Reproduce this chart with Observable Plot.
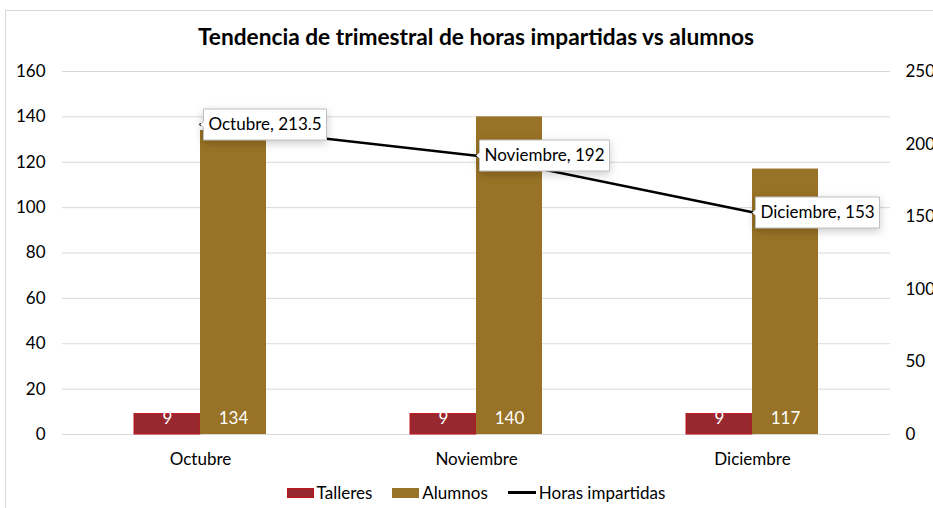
<!DOCTYPE html>
<html>
<head>
<meta charset="utf-8">
<script src="https://cdn.jsdelivr.net/npm/d3@7"></script>
<script src="https://cdn.jsdelivr.net/npm/@observablehq/plot@0.6"></script>
<style>
  body { margin: 0; background: #fff; font-family: Lato, "Open Sans", sans-serif; }
  #wrap { position: relative; width: 933px; height: 508px; overflow: hidden; }
  #frame { position: absolute; left: 5px; top: 10px; width: 960px; height: 520px; border: 1px solid #d9d9d9; box-sizing: border-box; }
  #title { position: absolute; top: 23px; left: 0; width: 952px; text-align: center; font: bold 22.7px Lato, sans-serif; color: #000; }
  #chart { position: absolute; left: 0; top: 0; }
  #legend { position: absolute; top: 482px; left: 0; width: 952px; display: flex; justify-content: center; align-items: center; font: 17px Lato, sans-serif; color: #000; }
  .item { display: flex; align-items: center; margin: 0 10px; }
  .sw { width: 27px; height: 10px; margin-right: 3px; box-sizing: border-box; }
  .ln { width: 28px; height: 3px; background: #000; margin-right: 3px; }
</style>
</head>
<body>
<div id="wrap">
  <div id="frame"></div>
  <div id="title">Tendencia de trimestral de horas impartidas vs alumnos</div>
  <div id="chart"></div>
  <div id="legend"></div>
</div>
<script>
const meses = ["Octubre", "Noviembre", "Diciembre"];
const talleres = [9, 9, 9];
const alumnos = [134, 140, 117];
const horas = [213.5, 192, 153];
const leftTicks = [0, 20, 40, 60, 80, 100, 120, 140, 160];
const rightTicks = [0, 50, 100, 150, 200, 250];
const leftMax = 160, rightMax = 250;

const colTalleres = "#982830", strokeTalleres = "#c0161e";
const colAlumnos = "#987226";

const data = meses.map((m, i) => ({mes: m, talleres: talleres[i], alumnos: alumnos[i], horas: horas[i]}));
const toLeft = v => v * leftMax / rightMax;

const W = 933, H = 508;
const mL = 62, mR = 43, mT = 71, mB = 74;
const band = (W - mL - mR) / meses.length;
const barW = 66;

const plot = Plot.plot({
  width: W, height: H,
  marginLeft: mL, marginRight: mR, marginTop: mT, marginBottom: mB,
  style: {fontFamily: "Lato, sans-serif", fontSize: "17px", color: "#000", overflow: "visible"},
  x: {type: "band", domain: meses, padding: 0, label: null},
  y: {domain: [0, leftMax], label: null},
  marks: [
    Plot.gridY(leftTicks, {stroke: "#d9d9d9", strokeOpacity: 1, strokeWidth: 1}),
    Plot.axisY(leftTicks, {anchor: "left", tickSize: 0, tickPadding: 17, label: null, fontSize: 17}),
    Plot.axisY(rightTicks.map(toLeft), {anchor: "right", tickSize: 0, tickPadding: 15, label: null, fontSize: 17, tickFormat: d => d3.format("d")(Math.round(d * rightMax / leftMax))}),
    Plot.axisX({tickSize: 0, tickPadding: 18, label: null, fontSize: 17}),
    Plot.barY(data, {x: "mes", y: "talleres", fill: colTalleres, stroke: strokeTalleres, strokeWidth: 1, insetLeft: band/2 - barW, insetRight: band/2}),
    Plot.barY(data, {x: "mes", y: "alumnos", fill: colAlumnos, insetLeft: band/2, insetRight: band/2 - barW}),
    Plot.text(data, {x: "mes", y: () => 0, text: d => String(d.talleres), dx: -barW/2, dy: -16, fill: "#fff", fontSize: 17}),
    Plot.text(data, {x: "mes", y: () => 0, text: d => String(d.alumnos), dx: barW/2, dy: -16, fill: "#fff", fontSize: 17}),
    Plot.lineY(data, {x: "mes", y: d => toLeft(d.horas), stroke: "#000", strokeWidth: 2.5}),
    Plot.tip(data, {x: "mes", y: d => toLeft(d.horas), title: d => `${d.mes}, ${d.horas}`, anchor: "left", pointerSize: 6, fontSize: 17, fill: "#fff", stroke: "#bfbfbf", textPadding: 5})
  ]
});
document.getElementById("chart").appendChild(plot);

const legend = document.getElementById("legend");
legend.innerHTML = `
  <div class="item"><div class="sw" style="background:${colTalleres};border:1px solid ${strokeTalleres}"></div>Talleres</div>
  <div class="item"><div class="sw" style="background:${colAlumnos}"></div>Alumnos</div>
  <div class="item"><div class="ln"></div>Horas impartidas</div>`;
</script>
</body>
</html>
